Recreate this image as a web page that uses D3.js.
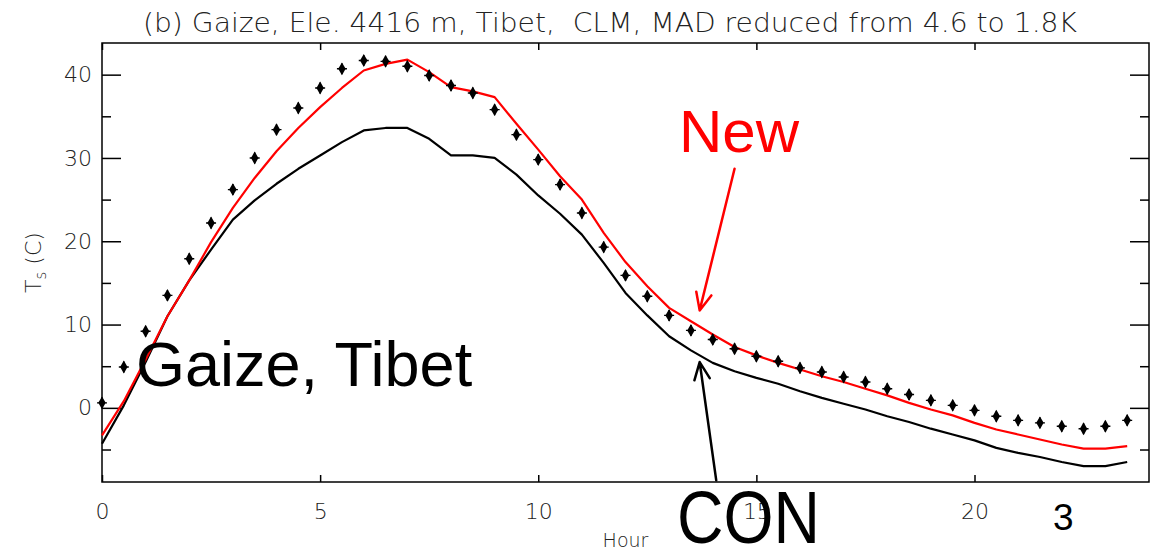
<!DOCTYPE html>
<html>
<head>
<meta charset="utf-8">
<script src="https://cdn.jsdelivr.net/npm/d3@7"></script>
<style>
  html, body { margin: 0; padding: 0; background: #fff; }
  svg { display: block; }
  .tick text { font-family: "DejaVu Sans", sans-serif; font-weight: 200; font-size: 22px; fill: #222; }
  .tick line { stroke: #000; stroke-width: 1.5; }
</style>
</head>
<body>
<svg id="chart" width="1151" height="550"></svg>
<script>
// Half-hourly local time (hours)
const hours = [0, 0.5, 1, 1.5, 2, 2.5, 3, 3.5, 4, 4.5, 5, 5.5, 6, 6.5, 7, 7.5,
  8, 8.5, 9, 9.5, 10, 10.5, 11, 11.5, 12, 12.5, 13, 13.5, 14, 14.5, 15, 15.5,
  16, 16.5, 17, 17.5, 18, 18.5, 19, 19.5, 20, 20.5, 21, 21.5, 22, 22.5, 23, 23.5];

// Observed surface temperature, Gaize (C)
const observed = [0.6, 4.9, 9.2, 13.5, 17.9, 22.2, 26.2, 30.0, 33.4, 36.0, 38.4, 40.7,
  41.7, 41.6, 41.0, 39.9, 38.7, 37.8, 35.8, 32.8, 29.8, 26.8, 23.4, 19.3,
  15.9, 13.4, 11.1, 9.3, 8.2, 7.1, 6.2, 5.6, 4.8, 4.3, 3.7, 3.1,
  2.3, 1.6, 0.9, 0.3, -0.3, -1.0, -1.5, -1.8, -2.2, -2.5, -2.2, -1.5];

// New scheme simulation (C)
const newRun = [-3.3, 0.8, 5.8, 11.0, 15.3, 19.9, 24.0, 27.6, 30.8, 33.6, 36.1, 38.4,
  40.5, 41.3, 41.8, 40.3, 38.5, 38.0, 37.3, 34.1, 31.0, 27.8, 25.0, 21.0,
  17.5, 14.6, 12.0, 10.4, 8.8, 7.3, 6.3, 5.4, 4.6, 3.8, 3.1, 2.3,
  1.5, 0.6, -0.2, -0.9, -1.8, -2.6, -3.2, -3.8, -4.4, -4.9, -4.9, -4.6];

// Control simulation (C)
const conRun = [-4.3, 0.3, 5.5, 11.0, 15.3, 19.0, 22.6, 24.9, 26.9, 28.7, 30.3, 31.9,
  33.3, 33.6, 33.6, 32.3, 30.3, 30.3, 30.0, 28.0, 25.5, 23.3, 20.8, 17.4,
  13.8, 11.1, 8.6, 6.9, 5.4, 4.4, 3.6, 2.9, 2.0, 1.2, 0.5, -0.2,
  -1.0, -1.7, -2.5, -3.2, -3.9, -4.8, -5.4, -5.9, -6.5, -7.0, -7.0, -6.5];

const xTicks = [0, 5, 10, 15, 20];
const yMajor = [0, 10, 20, 30, 40];
const yMinor = [-5, 5, 15, 25, 35];

const titleText = "(b) Gaize, Ele. 4416 m, Tibet,  CLM, MAD reduced from 4.6 to 1.8K";

const svg = d3.select("#chart");
const plotL = 102, plotR = 1149, plotT = 43, plotB = 482;

const x = d3.scaleLinear().domain([0, 24]).range([plotL, plotR]);
const y = d3.scaleLinear().domain([-8.9, 43.8]).range([plotB, plotT]);

// Axes with inward ticks on all four sides
svg.append("g").attr("transform", `translate(0,${plotB})`)
  .call(d3.axisBottom(x).tickValues(xTicks).tickSize(-7).tickPadding(21).tickFormat(d3.format("d")));
svg.append("g").attr("transform", `translate(0,${plotT})`)
  .call(d3.axisTop(x).tickValues(xTicks).tickSize(-7).tickFormat(""));
svg.append("g").attr("transform", `translate(${plotL},0)`)
  .call(d3.axisLeft(y).tickValues(yMajor).tickSize(-19).tickPadding(10).tickFormat(d3.format("d")));
svg.append("g").attr("transform", `translate(${plotL},0)`)
  .call(d3.axisLeft(y).tickValues(yMinor).tickSize(-9).tickFormat(""));
svg.append("g").attr("transform", `translate(${plotR},0)`)
  .call(d3.axisRight(y).tickValues(yMajor).tickSize(-19).tickFormat(""));
svg.append("g").attr("transform", `translate(${plotR},0)`)
  .call(d3.axisRight(y).tickValues(yMinor).tickSize(-9).tickFormat(""));
svg.selectAll(".domain").remove();

// Plot frame
svg.append("rect")
  .attr("x", plotL).attr("y", plotT)
  .attr("width", plotR - plotL).attr("height", plotB - plotT)
  .attr("fill", "none").attr("stroke", "#000").attr("stroke-width", 1.5);

// Title and axis titles
svg.append("text")
  .attr("x", 143).attr("y", 32)
  .attr("textLength", 934).attr("lengthAdjust", "spacingAndGlyphs")
  .style("white-space", "pre")
  .style("font-family", "DejaVu Sans, sans-serif").style("font-weight", 200)
  .style("font-size", "27px").style("fill", "#222")
  .text(titleText);

svg.append("text")
  .attr("x", (plotL + plotR) / 2).attr("y", 547)
  .attr("text-anchor", "middle")
  .style("font-family", "DejaVu Sans, sans-serif").style("font-weight", 200)
  .style("font-size", "19px").style("fill", "#222")
  .text("Hour");

const yt = svg.append("text")
  .attr("transform", `translate(41,${(plotT + plotB) / 2}) rotate(-90)`)
  .attr("text-anchor", "middle")
  .style("font-family", "DejaVu Sans, sans-serif").style("font-weight", 200)
  .style("font-size", "22px").style("fill", "#222");
yt.append("tspan").text("T");
yt.append("tspan").attr("dy", 5).style("font-size", "15px").text("s");
yt.append("tspan").attr("dy", -5).text(" (C)");

// Simulated curves
const line = d3.line().x((d, i) => x(hours[i])).y(d => y(d));
svg.append("path").datum(conRun)
  .attr("d", line).attr("fill", "none")
  .attr("stroke", "#000").attr("stroke-width", 2.2).attr("stroke-linejoin", "round");
svg.append("path").datum(newRun)
  .attr("d", line).attr("fill", "none")
  .attr("stroke", "#ff0000").attr("stroke-width", 2.2).attr("stroke-linejoin", "round");

// Observations: small filled diamonds with a short cross
const diamond = d3.symbol().type(d3.symbolDiamond).size(48)();
const cross = "M-5,0L5,0M0,-5.5L0,5.5";
const obs = svg.append("g").selectAll("g").data(observed).join("g")
  .attr("transform", (d, i) => `translate(${x(hours[i])},${y(d)})`);
obs.append("path").attr("d", diamond).attr("fill", "#000");
obs.append("path").attr("d", cross).attr("stroke", "#000").attr("stroke-width", 1.4);

// Annotation labels
svg.append("text").attr("x", 136).attr("y", 386)
  .style("font-family", "Liberation Sans, Arial, sans-serif").style("font-size", "63px").style("fill", "#000")
  .text("Gaize, Tibet");
svg.append("text").attr("x", 679).attr("y", 152)
  .style("font-family", "Liberation Sans, Arial, sans-serif").style("font-size", "60px").style("fill", "#ff0000")
  .text("New");
svg.append("text").attr("x", 677).attr("y", 543)
  .attr("textLength", 143).attr("lengthAdjust", "spacingAndGlyphs")
  .style("font-family", "Liberation Sans, Arial, sans-serif").style("font-size", "74px").style("fill", "#000")
  .text("CON");
svg.append("text").attr("x", 1053).attr("y", 530)
  .style("font-family", "Liberation Sans, Arial, sans-serif").style("font-size", "37px").style("fill", "#000")
  .text("3");

// Arrows pointing to the curves (positions in data units)
function arrow(from, to, color) {
  const x0 = x(from[0]), y0 = y(from[1]), x1 = x(to[0]), y1 = y(to[1]);
  const a = Math.atan2(y1 - y0, x1 - x0), L = 19, w = 0.42;
  const p1 = [x1 - L * Math.cos(a - w), y1 - L * Math.sin(a - w)];
  const p2 = [x1 - L * Math.cos(a + w), y1 - L * Math.sin(a + w)];
  svg.append("path")
    .attr("d", `M${x0},${y0}L${x1},${y1}M${p1[0]},${p1[1]}L${x1},${y1}L${p2[0]},${p2[1]}`)
    .attr("fill", "none").attr("stroke", color).attr("stroke-width", 2.5)
    .attr("stroke-linecap", "round").attr("stroke-linejoin", "round");
}
arrow([14.5, 28.7], [13.7, 11.7], "#ff0000");
arrow([14.08, -8.7], [13.7, 5.5], "#000");
</script>
</body>
</html>
